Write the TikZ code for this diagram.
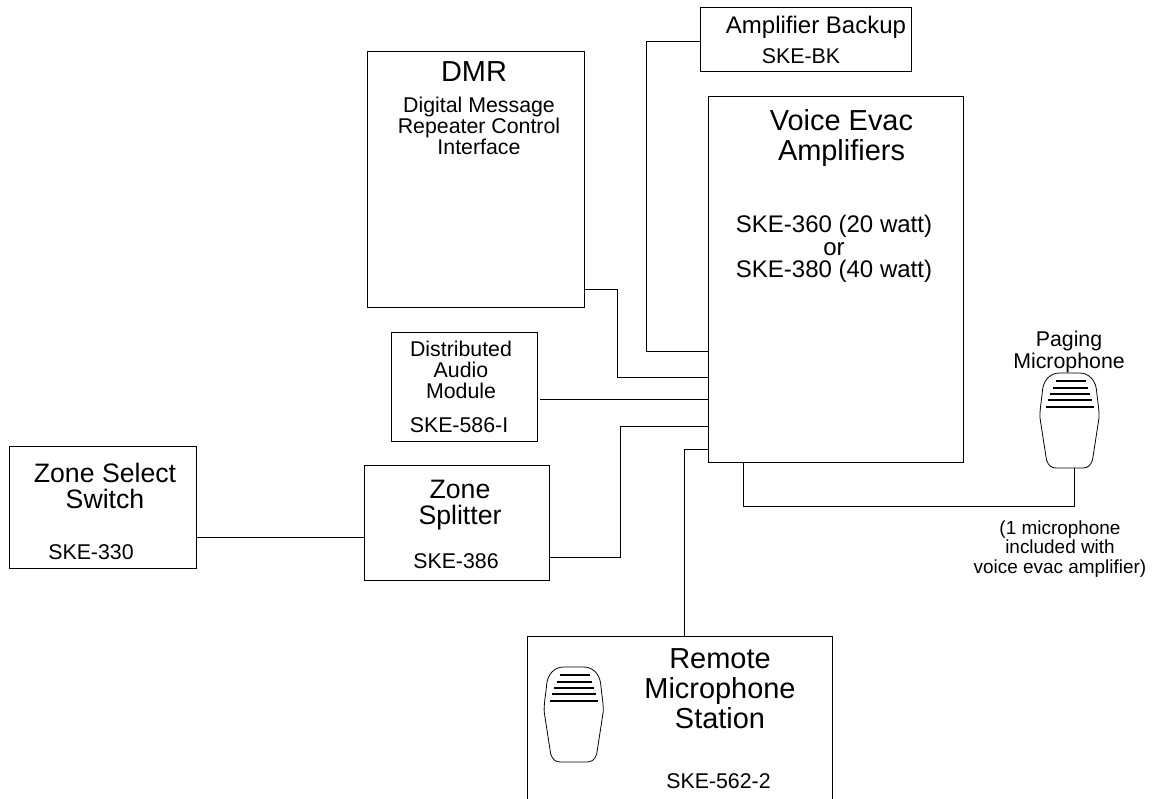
\documentclass[tikz,border=0pt]{standalone}
\usepackage{fontspec}
\setmainfont{Liberation Sans}
\usetikzlibrary{calc}

\tikzset{
  box/.style={draw, line width=0.6pt, inner sep=0pt, anchor=north west},
  wire/.style={line width=0.6pt},
  big/.style={align=center, font=\fontsize{21.7}{22.5}\selectfont},
  zone/.style={align=center, font=\fontsize{20}{20}\selectfont},
  large/.style={align=center, font=\fontsize{18}{16.9}\selectfont},
  mid/.style={align=center, font=\fontsize{16}{16}\selectfont},
  small/.style={align=center, font=\fontsize{14.2}{14.6}\selectfont},
  mic/.pic={
    \draw[line width=0.6pt] (-10,0) .. controls (-20,0) and (-26,8) .. (-27,17)
        .. controls (-28,28) and (-30,38) .. (-29.5,45) -- (-23,87)
        .. controls (-21,93) and (-18,95) .. (-13,95) -- (13,95)
        .. controls (18,95) and (21,93) .. (23,87) -- (29.5,45)
        .. controls (30,38) and (28,28) .. (27,17)
        .. controls (26,8) and (20,0) .. (10,0) -- cycle;
    \foreach \ya/\xa/\xb in {8/-14/16, 15/-17/18, 21/-20/20, 27/-22/22, 34/-24/24}
      \draw[line width=1.1pt] (\xa,\ya) -- (\xb,\ya);
    \coordinate (-tail) at (4.5,95);
  }
}

\begin{document}
\begin{tikzpicture}[x=0.75pt, y=-0.75pt]
    \useasboundingbox (0,0) rectangle (1153,799);

    % the boxes
    \foreach \id/\x/\y/\w/\h in {backup/700/7/211/64, dmr/367/51/217/256, amp/708/96/255/366,
                                 dam/391/332/146/109, select/9/446/187/122, splitter/364/465/185/115}
        \node[box, minimum width=\w*0.75pt, minimum height=\h*0.75pt] (\id) at (\x,\y) {};

    % runs off the bottom of the page
    \node[inner sep=0pt, anchor=north west, minimum width=305*0.75pt, minimum height=163*0.75pt] (remote) at (527,636) {};
    \draw[wire] (remote.south west) -- (remote.north west) -- (remote.north east) -- (remote.south east);

    % texts
    \node[large] (backuptxt) at (816,27) {Amplifier Backup};
    \node[mid] (backupske) at (801,56) {SKE-BK};
    \node[big] (dmrtxt) at (474,72) {DMR};
    \node[mid] (dmrsub) at (479,126) {Digital Message\\Repeater Control\\Interface};
    \node[big] (amptxt) at (841.5,138) {Voice Evac\\Amplifiers};
    \node[large] (ampske) at (834,249) {SKE-360 (20 watt)\\or\\SKE-380 (40 watt)};
    \node[mid] (pagetxt) at (1069,352) {Paging\\Microphone};
    \node[mid] (damtxt) at (461,370) {Distributed\\Audio\\Module};
    \node[mid] (damske) at (459,425) {SKE-586-I};
    \node[zone] (selecttxt) at (105,486) {Zone Select\\Switch};
    \node[mid] (selectske) at (91,552) {SKE-330};
    \node[zone] (splittxt) at (460,505) {Zone\\Splitter};
    \node[mid] (splitske) at (456,561) {SKE-386};
    \node[big] (remotetxt) at (720,689) {Remote\\Microphone\\Station};
    \node[mid] (remoteske) at (718.5,781) {SKE-562-2};
    \node[small] (notetxt) at (1060,549) {(1 microphone\\included with\\voice evac amplifier)};

    % microphones
    \pic (paging) at (1069.5,373) {mic};
    \pic (handset) at (573.7,667) {mic};

    % connectors
    \draw[wire] (backup.west |- 0,41) -- (646,41) -- (646,351) -- (amp.west |- 0,351);
    \draw[wire] (dmr.east |- 0,289) -- (617,289) -- (617,377) -- (amp.west |- 0,377);
    \draw[wire] (540,399) coordinate (damout) -- (amp.west |- damout);
    \draw[wire] (splitter.east |- 0,557) -- (620,557) -- (620,426) -- (amp.west |- 0,426);
    \draw[wire] (remote.north -| 684,0) -- (684,449) -- (amp.west |- 0,449);
    \draw[wire] (select.east |- 0,537) -- (splitter.west |- 0,537);
    \draw[wire] (amp.south -| 743,0) -- (743,506) -- (1074,506) -- (paging-tail);
\end{tikzpicture}
\end{document}
